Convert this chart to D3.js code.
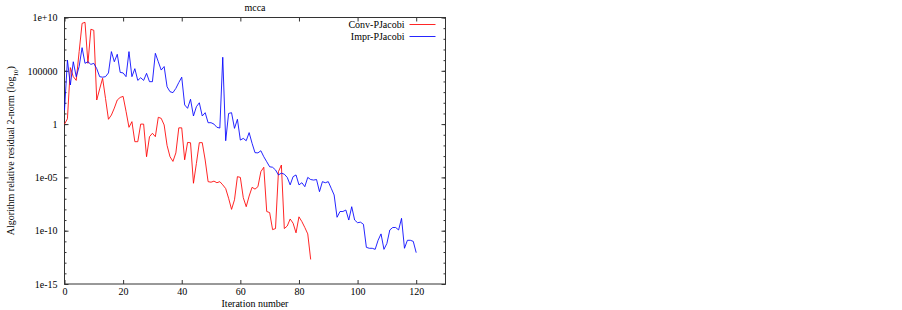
<!DOCTYPE html>
<html>
<head>
<meta charset="utf-8">
<script src="https://cdn.jsdelivr.net/npm/d3@7"></script>
<style>
  body { margin: 0; background: #fff; }
  svg text { font-family: "Liberation Serif", "Times New Roman", serif; fill: #000; }
</style>
</head>
<body>
<div id="chart"></div>
<script>
// log10 of the relative residual, one value per iteration
const convLog10 = [
    0.0, 0.5, 5.3, 4.45, 4.1, 6.8, 9.45, 9.55, 5.7, 8.9,
    8.8, 2.26, 3.3, 4.3, 2.4, 0.45, 0.85, 1.5, 2.26, 2.5,
    2.6, 1.2, -0.3, 0.23, -1.65, -1.65, 0.0, 0.0, -3.06, -1.18,
    -0.86, -1.18, 0.64, 0.54, -0.08, -2.0, -3.06, -3.5, -2.7, -0.35,
    -0.35, -3.35, -1.72, -1.75, -5.55, -3.7, -1.74, -1.74, -3.37, -5.4,
    -5.45, -5.35, -5.5, -5.4, -5.7, -6.05, -6.96, -8.0, -7.1, -4.93,
    -5.0, -6.9, -7.75, -6.75, -5.93, -6.1, -5.87, -4.46, -4.05, -8.2,
    -8.3, -9.9, -9.8, -4.46, -3.84, -9.8, -9.56, -8.9, -9.3, -10.2,
    -8.7, -9.15, -9.7, -10.3, -12.7
];

const imprLog10 = [
    1.3, 6.0, 3.67, 5.85, 4.45, 5.4, 7.17, 5.7, 5.85, 5.6,
    5.7, 5.2, 4.45, 4.4, 4.45, 4.8, 6.8, 5.85, 6.55, 4.85,
    4.8, 4.45, 6.8, 4.45, 5.2, 4.1, 4.35, 4.1, 4.76, 3.98,
    3.98, 6.64, 5.85, 5.07, 5.4, 3.5, 3.04, 2.95, 3.35, 3.9,
    4.4, 1.8, 1.48, 2.33, 0.76, 1.63, 2.0, 0.76, 1.07, 0.13,
    0.13, 0.0, -0.3, -0.37, 6.27, -1.56, 1.0, 1.07, -0.4, 0.45,
    -1.5, -1.34, -1.56, -0.8, -1.8, -2.68, -2.7, -2.5, -3.06, -3.53,
    -4.0, -4.05, -4.3, -4.77, -4.6, -4.7, -5.0, -5.7, -4.93, -4.77,
    -5.7, -5.5, -5.87, -5.0, -5.2, -5.25, -5.2, -6.34, -5.4, -5.5,
    -5.4, -6.02, -6.65, -8.74, -8.2, -8.2, -8.06, -9.0, -7.75, -9.0,
    -9.25, -9.2, -9.4, -11.56, -11.65, -11.65, -11.75, -10.9, -10.3, -11.75,
    -11.2, -9.93, -9.7, -9.7, -9.93, -8.84, -11.65, -10.9, -10.9, -11.0,
    -12.06
];

const seriesNames = ["Conv-PJacobi", "Impr-PJacobi"];
const seriesColors = ["#ff0000", "#0000ff"];

const xTicks = [0, 20, 40, 60, 80, 100, 120];
const yTicks = [1e-15, 1e-10, 1e-5, 1, 1e5, 1e10];
const yTickLabels = ["1e-15", "1e-10", "1e-05", "1", "100000", "1e+10"];

const W = 902, H = 310;
const margin = { top: 17.5, right: 456.5, bottom: 26, left: 64.5 };
const width = W - margin.left - margin.right;
const height = H - margin.top - margin.bottom;

const svg = d3.select("#chart").append("svg")
    .attr("width", W)
    .attr("height", H);

const g = svg.append("g")
    .attr("transform", "translate(" + margin.left + "," + margin.top + ")");

const x = d3.scaleLinear().domain([0, 130]).range([0, width]);
const y = d3.scaleLog().domain([1e-15, 1e10]).range([height, 0]);

// minor ticks: every decade
const yMinor = d3.range(-15, 11).map(e => Math.pow(10, e));

const tickColor = "#333";

// left / right minor + major ticks
g.append("g").attr("class", "y axis")
    .call(d3.axisLeft(y).tickValues(yMinor).tickSize(-2).tickFormat(""))
    .call(a => a.select(".domain").remove());
g.append("g").attr("class", "y axis")
    .call(d3.axisLeft(y).tickValues(yTicks).tickSize(-4).tickPadding(7)
        .tickFormat((d, i) => yTickLabels[i]))
    .call(a => a.select(".domain").remove())
    .selectAll("text").style("font-size", "10px");
g.append("g").attr("transform", "translate(" + width + ",0)")
    .call(d3.axisRight(y).tickValues(yMinor).tickSize(-2).tickFormat(""))
    .call(a => a.select(".domain").remove());
g.append("g").attr("transform", "translate(" + width + ",0)")
    .call(d3.axisRight(y).tickValues(yTicks).tickSize(-4).tickFormat(""))
    .call(a => a.select(".domain").remove());

// bottom / top ticks
g.append("g").attr("class", "x axis")
    .attr("transform", "translate(0," + height + ")")
    .call(d3.axisBottom(x).tickValues(xTicks).tickSize(-4).tickPadding(4))
    .call(a => a.select(".domain").remove())
    .selectAll("text").style("font-size", "10px");
g.append("g")
    .call(d3.axisTop(x).tickValues(xTicks).tickSize(-4).tickFormat(""))
    .call(a => a.select(".domain").remove());

g.selectAll(".tick line").attr("stroke", tickColor);

// frame
g.append("rect")
    .attr("width", width)
    .attr("height", height)
    .attr("fill", "none")
    .attr("stroke", tickColor)
    .attr("stroke-width", 1);

// lines
const line = d3.line()
    .x((d, i) => x(i))
    .y(d => y(Math.pow(10, d)));

[convLog10, imprLog10].forEach((s, k) => {
    g.append("path")
        .datum(s)
        .attr("d", line)
        .attr("fill", "none")
        .attr("stroke", seriesColors[k])
        .attr("stroke-opacity", 0.85)
        .attr("stroke-width", 1);
});

// legend
const legend = g.append("g").attr("class", "legend");
seriesNames.forEach((name, k) => {
    legend.append("text")
        .attr("x", 340)
        .attr("y", 7 + k * 12)
        .attr("dy", ".35em")
        .attr("text-anchor", "end")
        .style("font-size", "10px")
        .text(name);
    legend.append("line")
        .attr("x1", 345).attr("x2", 371)
        .attr("y1", 7 + k * 12).attr("y2", 7 + k * 12)
        .attr("stroke", seriesColors[k])
        .attr("stroke-opacity", 0.85)
        .attr("stroke-width", 1);
});

// title
svg.append("text")
    .attr("x", margin.left + width / 2)
    .attr("y", 11)
    .attr("text-anchor", "middle")
    .style("font-size", "10px")
    .text("mcca");

// x label
svg.append("text")
    .attr("x", margin.left + width / 2)
    .attr("y", H - 3)
    .attr("text-anchor", "middle")
    .style("font-size", "10px")
    .text("Iteration number");

// y label
const yl = svg.append("text")
    .attr("transform", "translate(14," + (margin.top + height / 2) + ") rotate(-90)")
    .attr("text-anchor", "middle")
    .style("font-size", "10px");
yl.append("tspan").text("Algorithm relative residual 2-norm (log");
yl.append("tspan").attr("baseline-shift", "sub").style("font-size", "7px").text("10");
yl.append("tspan").text(")");
</script>
</body>
</html>
